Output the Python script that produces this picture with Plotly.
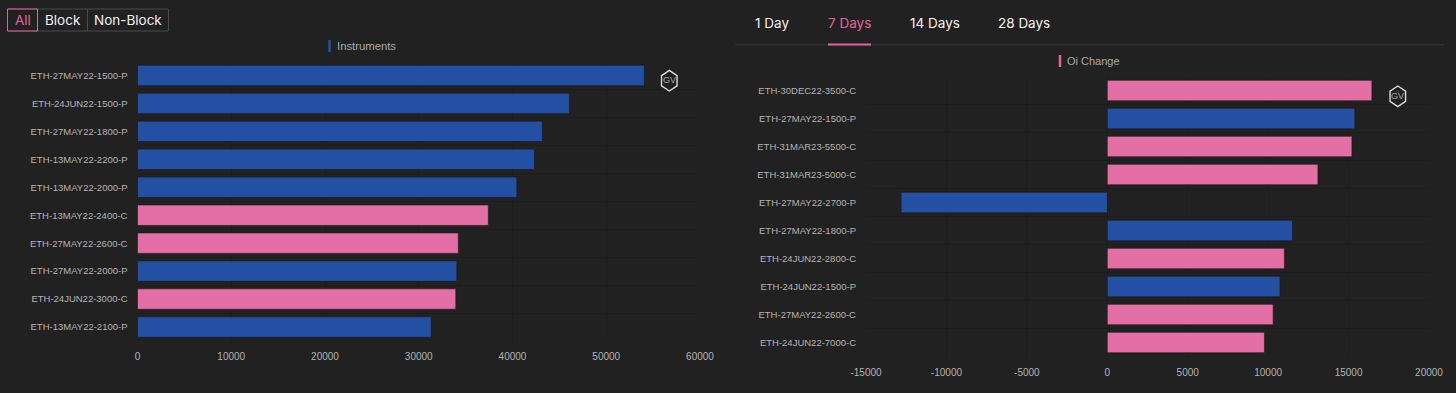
import math
import plotly.graph_objects as go

# ---- data ----
left_instruments = ["ETH-27MAY22-1500-P", "ETH-24JUN22-1500-P", "ETH-27MAY22-1800-P", "ETH-13MAY22-2200-P",
                    "ETH-13MAY22-2000-P", "ETH-13MAY22-2400-C", "ETH-27MAY22-2600-C", "ETH-27MAY22-2000-P",
                    "ETH-24JUN22-3000-C", "ETH-13MAY22-2100-P"]
left_values = [54060, 46060, 43180, 42330, 40460, 37420, 34220, 34060, 33950, 31330]
right_instruments = ["ETH-30DEC22-3500-C", "ETH-27MAY22-1500-P", "ETH-31MAR23-5500-C", "ETH-31MAR23-5000-C",
                     "ETH-27MAY22-2700-P", "ETH-27MAY22-1800-P", "ETH-24JUN22-2800-C", "ETH-24JUN22-1500-P",
                     "ETH-27MAY22-2600-C", "ETH-24JUN22-7000-C"]
right_values = [16450, 15390, 15210, 13095, -12820, 11510, 11010, 10735, 10310, 9770]
left_ticks = [0, 10000, 20000, 30000, 40000, 50000, 60000]
right_ticks = [-15000, -10000, -5000, 0, 5000, 10000, 15000, 20000]
buttons = ["All", "Block", "Non-Block"]
tabs = ["1 Day", "7 Days", "14 Days", "28 Days"]

W, H = 1456, 393
BG = "#212121"
GRID = "#1d1d1d"
BLUE = "#2450a4"
PINK = "#e36fa6"
ACCENT = "#e8619f"
TICK = "#b4b4b4"
OUTLINE = "#1a1a1a"
FONT = "Liberation Sans"
UI = "Inter"


def px(x):
    return x / W


def py(y):
    return 1 - y / H


def bar_colors(names):
    return [PINK if n.endswith("C") else BLUE for n in names]


fig = go.Figure()
fig.add_bar(y=left_instruments, x=left_values, orientation="h", name="Instruments",
            marker=dict(color=bar_colors(left_instruments), line=dict(color=OUTLINE, width=0.6)),
            xaxis="x", yaxis="y", showlegend=False)
fig.add_bar(y=right_instruments, x=right_values, orientation="h", name="Oi Change",
            marker=dict(color=bar_colors(right_instruments), line=dict(color=OUTLINE, width=0.6)),
            xaxis="x2", yaxis="y2", showlegend=False)

axis_common = dict(showgrid=True, gridcolor=GRID, gridwidth=1, zeroline=False, showline=False,
                   ticklen=0, automargin=False)
xfont = dict(family=FONT, size=10, color=TICK)
yfont = dict(family=FONT, size=9.5, color=TICK)
xaxis_l = dict(axis_common, domain=[px(137.5), px(700)], range=[0, 60000],
               tickvals=left_ticks, ticktext=[str(v) for v in left_ticks], tickfont=xfont,
               anchor="y", ticklabelstandoff=8)
xaxis_r = dict(axis_common, domain=[px(866), px(1429)], range=[-15000, 20000],
               tickvals=right_ticks, ticktext=[str(v) for v in right_ticks], tickfont=xfont,
               anchor="y2", ticklabelstandoff=8)
yaxis_l = dict(axis_common, domain=[py(341), py(61.5)], autorange="reversed", anchor="x", tickfont=yfont,
               tickson="boundaries", ticklabelstandoff=9, type="category")
yaxis_r = dict(axis_common, domain=[py(356.5), py(76.5)], autorange="reversed", anchor="x2", tickfont=yfont,
               tickson="boundaries", ticklabelstandoff=9, type="category")

shapes = []
annotations = []


def rect(x0, y0, x1, y1, color, width=1, fill=None):
    shapes.append(dict(type="rect", xref="paper", yref="paper", x0=px(x0), x1=px(x1), y0=py(y0), y1=py(y1),
                       line=dict(color=color, width=width), fillcolor=fill, layer="above"))


def hline(x0, x1, y, color, width=1):
    shapes.append(dict(type="line", xref="paper", yref="paper", x0=px(x0), x1=px(x1), y0=py(y), y1=py(y),
                       line=dict(color=color, width=width), layer="above"))


def vline(x, y0, y1, color, width=1):
    shapes.append(dict(type="line", xref="paper", yref="paper", x0=px(x), x1=px(x), y0=py(y0), y1=py(y1),
                       line=dict(color=color, width=width), layer="above"))


def label(x, y, text, color, size, family=UI, xanchor="center"):
    annotations.append(dict(xref="paper", yref="paper", x=px(x), y=py(y), text=text, showarrow=False,
                            xanchor=xanchor, yanchor="middle", font=dict(color=color, size=size, family=family)))


def badge(cx, cy):
    r = 10.3
    pts = [(cx + r * 0.87 * math.cos(math.radians(a)), cy + r * math.sin(math.radians(a)))
           for a in (-90, -30, 30, 90, 150, 210)]
    path = "M " + " L ".join(f"{px(a):.5f} {py(b):.5f}" for a, b in pts) + " Z"
    shapes.append(dict(type="path", xref="paper", yref="paper", path=path,
                       line=dict(color="#dcdcdc", width=1.4), layer="above"))
    label(cx, cy - 0.5, "GV", "#a8a8a8", 9, FONT)


# button group
rect(7.5, 9, 168.5, 31, "#4a4a4a")
vline(87.5, 9, 31, "#4a4a4a")
rect(7.5, 9, 37.5, 31, ACCENT)
for text, cx, col in zip(buttons, (22.5, 62.5, 128), (ACCENT, "#f2f2f2", "#f2f2f2")):
    label(cx, 20.5, text, col, 13.5)

# tabs
hline(735, 1444, 44.7, "#2e2e2e", 1.5)
hline(828, 871, 44.5, ACCENT, 2)
for text, cx, col in zip(tabs, (772, 849, 935, 1024), ("#f2f2f2", ACCENT, "#f2f2f2", "#f2f2f2")):
    label(cx, 22.5, text, col, 13.5)

# legends
vline(329.5, 40, 52, BLUE, 2.5)
label(334.5, 46, "Instruments", "#aaaaaa", 11.3, FONT, "left")
vline(1060, 55, 67, ACCENT, 2.5)
label(1065, 61, "Oi Change", "#aaaaaa", 11, FONT, "left")

# badges
badge(669.3, 80.7)
badge(1397.8, 96.3)

fig.update_layout(width=W, height=H, autosize=False, paper_bgcolor=BG, plot_bgcolor=BG,
                  margin=dict(l=0, r=0, t=0, b=0), bargap=0.27, showlegend=False,
                  xaxis=xaxis_l, yaxis=yaxis_l, xaxis2=xaxis_r, yaxis2=yaxis_r,
                  shapes=shapes, annotations=annotations)

fig.write_html("out.html", config=dict(displayModeBar=False),
               post_script="document.body.style.margin='0';document.body.style.background='#212121';")
